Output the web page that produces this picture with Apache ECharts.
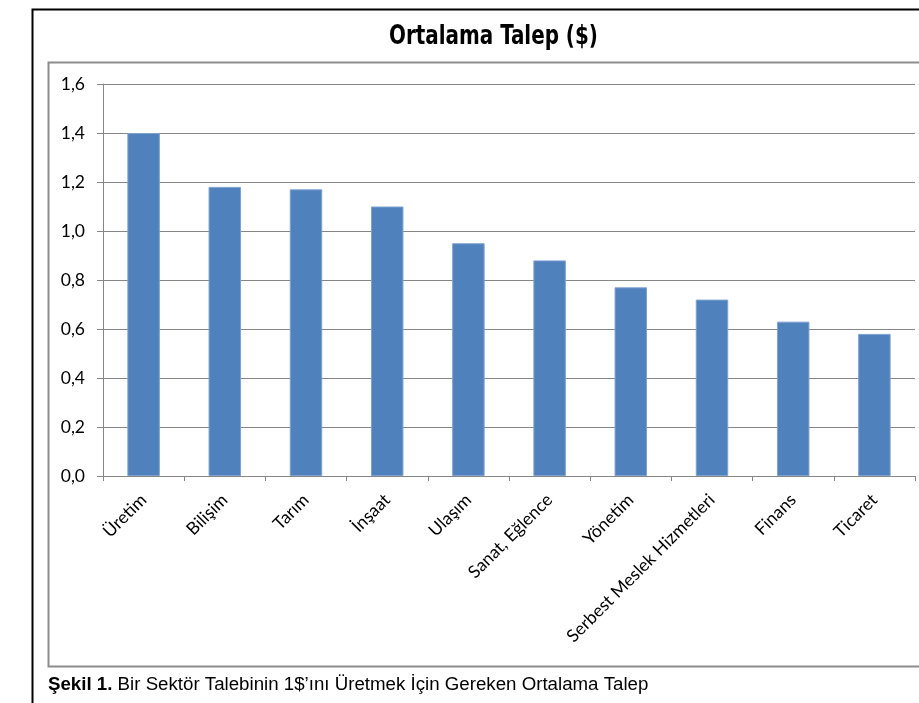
<!DOCTYPE html>
<html><head><meta charset="utf-8">
<script src="https://cdn.jsdelivr.net/npm/echarts@6/dist/echarts.min.js"></script>
<style>html,body{margin:0;padding:0;background:#fff}#c{width:919px;height:703px}</style>
</head><body><div id="c"></div>
<script>
const categories = ["Üretim","Bilişim","Tarım","İnşaat","Ulaşım","Sanat, Eğlence","Yönetim","Serbest Meslek Hizmetleri","Finans","Ticaret"];
const values = [1.40,1.18,1.17,1.10,0.95,0.88,0.77,0.72,0.63,0.58];
const yTicks = [0,0.2,0.4,0.6,0.8,1.0,1.2,1.4,1.6];
const titleText = "Ortalama Talep ($)";
const captionBold = "Şekil 1.";
const captionText = " Bir Sektör Talebinin 1$’ını Üretmek İçin Gereken Ortalama Talep";

const chart = echarts.init(document.getElementById('c'), null, {renderer:'canvas'});
chart.setOption({
  animation:false,
  backgroundColor:'#fff',
  grid:{left:103,right:4,top:84,bottom:227,containLabel:false},
  xAxis:{type:'category',data:categories,
    axisLine:{lineStyle:{color:'#868686',width:1}},
    axisTick:{show:true,alignWithLabel:false,length:5,lineStyle:{color:'#868686'}},
    axisLabel:{rotate:45,interval:0,margin:21,fontFamily:'Lato',fontSize:17.5,color:'#000'}},
  yAxis:{type:'value',min:yTicks[0],max:yTicks[yTicks.length-1],interval:0.2,
    axisLine:{show:true,lineStyle:{color:'#868686'}},
    axisTick:{show:true,length:6,lineStyle:{color:'#868686'}},
    splitLine:{lineStyle:{color:'#868686',width:1}},
    axisLabel:{margin:18,fontFamily:'Lato',fontSize:17.5,color:'#000',
      formatter:v=>v.toFixed(1).replace('.',',')}},
  series:[{type:'bar',data:values,barWidth:'40%',
    itemStyle:{color:'#4F81BD',borderColor:'#7EA1CF',borderWidth:1}}],
  graphic:[
    {type:'rect',shape:{x:32.5,y:9.5,width:1000,height:1000},style:{fill:'none',stroke:'#000',lineWidth:2},z:-1,silent:true},
    {type:'rect',shape:{x:48.5,y:62.5,width:1000,height:604},style:{fill:'none',stroke:'#8c8c8c',lineWidth:2},z:-1,silent:true},
    {type:'text',x:493.5,y:37,scaleX:0.82,scaleY:1,
      style:{text:titleText,fontFamily:'DejaVu Sans Condensed',fontWeight:'bold',fontSize:27,fill:'#000',textAlign:'center',textVerticalAlign:'middle'}},
    {type:'text',left:48,top:675,style:{rich:{b:{fontWeight:'bold',fontFamily:'Liberation Sans',fontSize:18.7,fill:'#000'},n:{fontFamily:'Liberation Sans',fontSize:18.7,fill:'#000'}},
      text:'{b|'+captionBold+'}{n|'+captionText+'}'}}
  ]
});
</script></body></html>
